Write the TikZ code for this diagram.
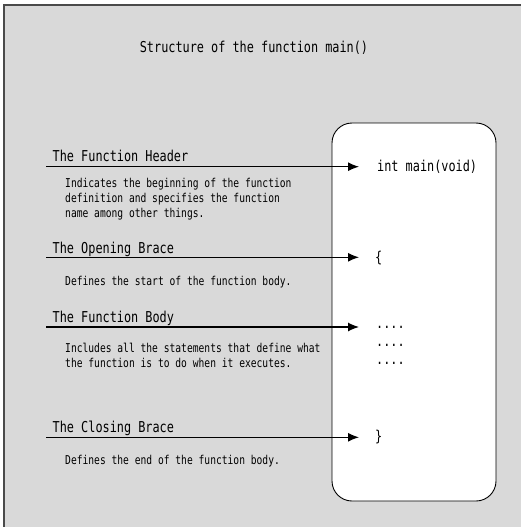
\documentclass[tikz,border=0pt]{standalone}
\usepackage{fontspec}
\usetikzlibrary{arrows.meta}
\newfontfamily\condmono[FakeStretch=0.79]{DejaVu Sans Mono}
\definecolor{bggray}{HTML}{D9D9D9}
\definecolor{framegray}{HTML}{4A4A4A}
\begin{document}
\begin{tikzpicture}[x=1pt,y=-1pt,
  bigtext/.style={font=\condmono\fontsize{15}{18}\selectfont,inner sep=0pt},
  smalltext/.style={font=\condmono\fontsize{12.2}{14.6}\selectfont,inner sep=0pt,align=left,anchor=base west},
  heading/.style={bigtext,anchor=base west},
  codetext/.style={bigtext,anchor=west},
  pointer/.style={line width=1.2pt,-{Latex[length=11pt,width=9pt]},shorten >=18pt}]
\useasboundingbox (0,0) rectangle (521,527);
\fill[bggray] (4,5) rectangle (530,540);
\draw[framegray,line width=1.6pt] (4,540) -- (4,5) -- (530,5);
\node[bigtext,anchor=base] (title) at (254,52.5) {Structure of the function main()};
\draw[fill=white,line width=0.9pt,rounded corners=20pt] (332,123) rectangle (496,501);
% headings
\node[heading] (h1) at (52.5,161.5) {The Function Header};
\node[heading] (h2) at (52.5,253.5) {The Opening Brace};
\node[heading] (h3) at (52.5,322) {The Function Body};
\node[heading] (h4) at (52.5,432) {The Closing Brace};
% descriptions (base anchor = last line)
\node[smalltext] (d1) at (65,217) {Indicates the beginning of the function\\definition and specifies the function\\name among other things.};
\node[smalltext] (d2) at (65,285) {Defines the start of the function body.};
\node[smalltext] (d3) at (65,367.3) {Includes all the statements that define what\\the function is to do when it executes.};
\node[smalltext] (d4) at (65,464) {Defines the end of the function body.};
% code
\node[codetext] (c1) at (377,166.5) {int main(void)};
\node[codetext] (c2) at (375,258) {\{};
\node[codetext,anchor=base west] (c3) at (376,328) {....};
\node[codetext,anchor=base west] (c3b) at (376,346) {....};
\node[codetext,anchor=base west] (c3c) at (376,364) {....};
\node[codetext] (c4) at (375,437.5) {\}};
% arrow starts
\coordinate (s1) at (46,166.7);
\coordinate (s2) at (46,257.3);
\coordinate (s3) at (46,327);
\coordinate (s4) at (46,437.3);
\draw[pointer] (s1) -- (s1 -| c1.west);
\draw[pointer,shorten >=16pt] (s2) -- (s2 -| c2.west);
\draw[pointer,shorten >=17pt] (s3) -- (s3 -| c3.west);
\draw[pointer,shorten >=16pt] (s4) -- (s4 -| c4.west);
\end{tikzpicture}
\end{document}
